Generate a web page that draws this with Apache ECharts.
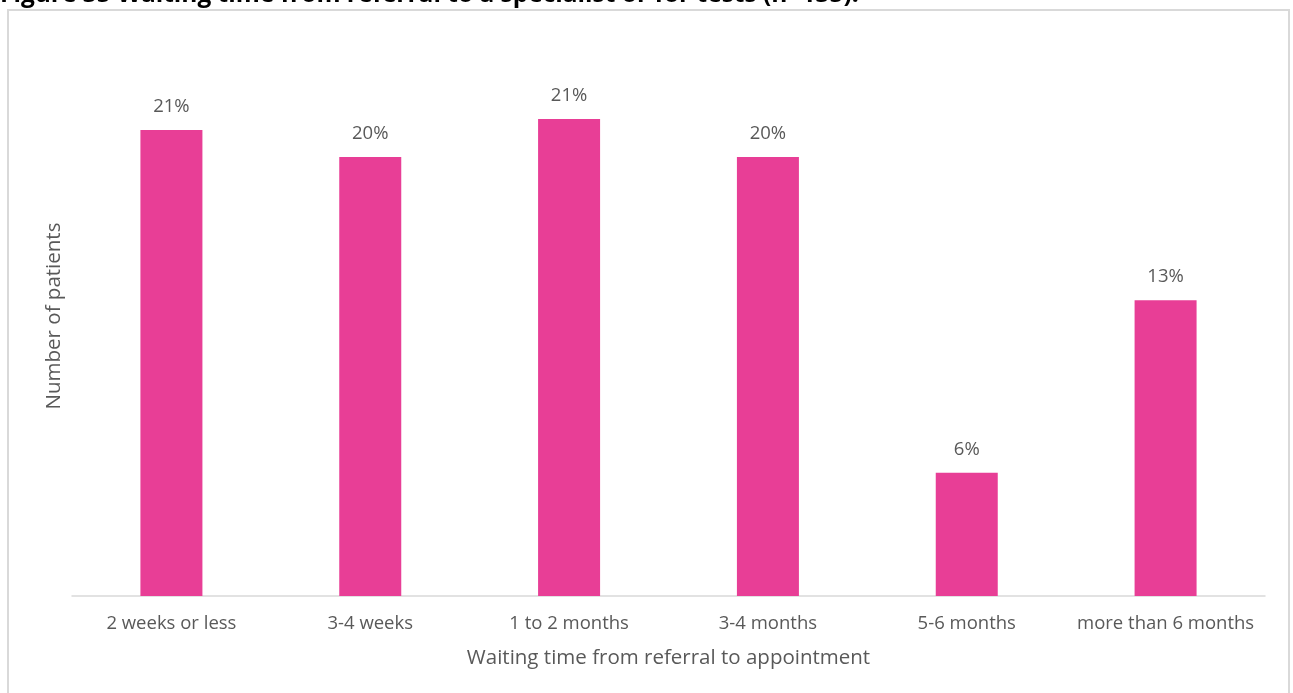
<!DOCTYPE html>
<html>
<head>
<meta charset="utf-8">
<script src="https://cdn.jsdelivr.net/npm/echarts@6/dist/echarts.min.js"></script>
<style>
  html, body { margin: 0; padding: 0; background: #ffffff; }
  #chart { width: 1293px; height: 693px; }
</style>
</head>
<body>
<div id="chart"></div>
<script>
// Waiting time categories and share of patients (%) in each
const categories = ['2 weeks or less', '3-4 weeks', '1 to 2 months', '3-4 months', '5-6 months', 'more than 6 months'];
const shares = [20.8, 19.6, 21.3, 19.6, 5.5, 13.2];

const titleText = 'Figure 35 Waiting time from referral to a specialist or for tests (n=135).';
const xAxisTitle = 'Waiting time from referral to appointment';
const yAxisTitle = 'Number of patients';

const FONT = '"Open Sans", Lato, sans-serif';
const chart = echarts.init(document.getElementById('chart'), null, { renderer: 'canvas' });

chart.setOption({
  backgroundColor: '#ffffff',
  animation: false,
  graphic: [
    {
      type: 'rect',
      shape: { x: 8, y: 10, width: 1281, height: 700 },
      style: { fill: 'none', stroke: '#d9d9d9', lineWidth: 2 },
      silent: true
    },
    {
      type: 'text',
      left: 0,
      top: -17,
      style: {
        text: titleText,
        font: 'bold 24.5px ' + FONT,
        fill: '#000000'
      },
      silent: true
    }
  ],
  grid: { left: 72, right: 28, top: 36, bottom: 97, containLabel: false },
  xAxis: {
    type: 'category',
    data: categories,
    name: xAxisTitle,
    nameLocation: 'middle',
    nameGap: 52,
    nameTextStyle: { color: '#595959', fontSize: 20.5, fontFamily: FONT },
    axisLine: { show: true, lineStyle: { color: '#d9d9d9', width: 1.5 } },
    axisTick: { show: false },
    axisLabel: { color: '#595959', fontSize: 18.5, fontFamily: FONT, margin: 18, interval: 0 }
  },
  yAxis: {
    type: 'value',
    min: 0,
    max: 25,
    name: yAxisTitle,
    nameLocation: 'middle',
    nameGap: 7,
    nameTextStyle: { color: '#595959', fontSize: 20.5, fontFamily: FONT },
    axisLine: { show: false },
    axisTick: { show: false },
    axisLabel: { show: false },
    splitLine: { show: false }
  },
  series: [{
    type: 'bar',
    data: shares,
    barWidth: 62,
    itemStyle: { color: '#e83e96' },
    label: {
      show: true,
      position: 'top',
      distance: 14,
      color: '#595959',
      fontSize: 18.5,
      fontFamily: FONT,
      formatter: p => Math.round(p.value) + '%'
    }
  }]
});
</script>
</body>
</html>
